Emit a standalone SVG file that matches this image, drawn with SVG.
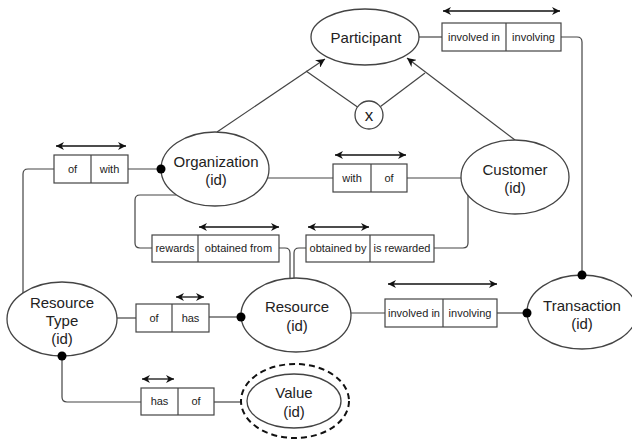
<svg xmlns="http://www.w3.org/2000/svg" width="632" height="443" viewBox="0 0 632 443">
<style>
.bg{fill:#fff}
.ent{fill:#fff;stroke:#444;stroke-width:1.3}
.weak{fill:#fff;stroke:#111;stroke-width:2;stroke-dasharray:6,4}
.box{fill:#fff;stroke:#444;stroke-width:1.2}
.ln{fill:none;stroke:#444;stroke-width:1.2}
.dbl{fill:none;stroke:#111;stroke-width:1.3;marker-start:url(#ah);marker-end:url(#ah)}
.dot{fill:#000}
.t{font-family:"Liberation Sans",Arial,Helvetica,sans-serif;fill:#222;text-anchor:middle}
.big{font-size:15px}
.sm{font-size:11px}
</style>
<defs>
<marker id="ah" viewBox="0 0 10 10" refX="10" refY="5" markerWidth="8" markerHeight="8" markerUnits="userSpaceOnUse" orient="auto-start-reverse">
<path d="M0,0 L10,5 L0,10 L3,5 z" fill="#111"/>
</marker>
<marker id="ap" viewBox="0 0 10 10" refX="10" refY="5" markerWidth="9" markerHeight="9" markerUnits="userSpaceOnUse" orient="auto">
<path d="M0,0 L10,5 L0,10 L3,5 z" fill="#111"/>
</marker>
</defs>
<rect class="bg" x="0" y="0" width="632" height="443"/>

<g id="connectors">
<path class="ln" d="M419,37 L442,37"/>
<path class="ln" d="M561,37 L577,37 Q582,37 582,42 L582,275"/>
<path class="ln" d="M217,132 L325,59" marker-end="url(#ap)"/>
<path class="ln" d="M515,140 L407,58" marker-end="url(#ap)"/>
<path class="ln" d="M306,71 L357.5,107"/>
<path class="ln" d="M425,73 L380.5,106.5"/>
<path class="ln" d="M128,169 L161,169"/>
<path class="ln" d="M54,169 L28,169 Q23,169 23,174 L23,293"/>
<path class="ln" d="M267,178 L333,178"/>
<path class="ln" d="M407,178 L461,178"/>
<path class="ln" d="M176,195 L140,195 Q135,195 135,200 L135,243 Q135,248 140,248 L152,248"/>
<path class="ln" d="M279,248 L285,248 Q290,248 290,253 L290,279"/>
<path class="ln" d="M306,248 L299,248 Q294,248 294,253 L294,279"/>
<path class="ln" d="M434,248 L463,248 Q468,248 468,243 L468,195"/>
<path class="ln" d="M117,318 L136,318"/>
<path class="ln" d="M209,317 L241,317"/>
<path class="ln" d="M351,313 L385,313"/>
<path class="ln" d="M497,313 L527,313"/>
<path class="ln" d="M62,356 L62,397 Q62,402 67,402 L141,402"/>
<path class="ln" d="M214,402 L241,402"/>
</g>

<g id="participant">
<ellipse class="ent" cx="365" cy="37" rx="54" ry="28"/>
<text class="t big" x="366" y="43">Participant</text>
</g>
<g id="exclusion">
<circle class="ent" cx="369" cy="115" r="14"/>
<text class="t" x="369" y="121" font-size="17">x</text>
</g>
<g id="organization">
<ellipse class="ent" cx="215" cy="169" rx="54" ry="37"/>
<text class="t big" x="216" y="167">Organization</text>
<text class="t big" x="216" y="185">(id)</text>
</g>
<g id="customer">
<ellipse class="ent" cx="515" cy="177" rx="54" ry="37"/>
<text class="t big" x="515" y="175">Customer</text>
<text class="t big" x="515" y="193">(id)</text>
</g>
<g id="resource-type">
<ellipse class="ent" cx="62" cy="319" rx="55" ry="37"/>
<text class="t big" x="62" y="308">Resource</text>
<text class="t big" x="62" y="326">Type</text>
<text class="t big" x="62" y="344">(id)</text>
</g>
<g id="resource">
<ellipse class="ent" cx="296" cy="315" rx="55" ry="37"/>
<text class="t big" x="297" y="312">Resource</text>
<text class="t big" x="297" y="331">(id)</text>
</g>
<g id="transaction">
<ellipse class="ent" cx="582" cy="312" rx="55" ry="37"/>
<text class="t big" x="582" y="311">Transaction</text>
<text class="t big" x="582" y="329">(id)</text>
</g>
<g id="value">
<ellipse class="weak" cx="295" cy="401" rx="54" ry="37"/>
<ellipse class="ent" cx="294" cy="401" rx="47" ry="27"/>
<text class="t big" x="294" y="398">Value</text>
<text class="t big" x="294" y="417">(id)</text>
</g>

<g id="rel-participant-transaction">
<rect class="box" x="442" y="23" width="119" height="28"/>
<path class="ln" d="M506,23 V51"/>
<text class="t sm" x="474" y="41">involved in</text>
<text class="t sm" x="533.5" y="41">involving</text>
<path class="dbl" d="M443,11 H560"/>
</g>
<g id="rel-type-organization">
<rect class="box" x="54" y="155" width="74" height="28"/>
<path class="ln" d="M91,155 V183"/>
<text class="t sm" x="72.5" y="173">of</text>
<text class="t sm" x="109.5" y="173">with</text>
<path class="dbl" d="M56,146 H126"/>
</g>
<g id="rel-organization-customer">
<rect class="box" x="333" y="164" width="74" height="28"/>
<path class="ln" d="M371,164 V192"/>
<text class="t sm" x="352" y="182">with</text>
<text class="t sm" x="389" y="182">of</text>
<path class="dbl" d="M335,155 H406"/>
</g>
<g id="rel-rewards">
<rect class="box" x="152" y="235" width="127" height="27"/>
<path class="ln" d="M198,235 V262"/>
<text class="t sm" x="175" y="252">rewards</text>
<text class="t sm" x="238.5" y="252">obtained from</text>
<path class="dbl" d="M199,227 H279"/>
</g>
<g id="rel-obtained">
<rect class="box" x="306" y="235" width="128" height="27"/>
<path class="ln" d="M370,235 V262"/>
<text class="t sm" x="338" y="252">obtained by</text>
<text class="t sm" x="402" y="252">is rewarded</text>
<path class="dbl" d="M308,227 H369"/>
</g>
<g id="rel-type-resource">
<rect class="box" x="136" y="304" width="73" height="28"/>
<path class="ln" d="M172,304 V332"/>
<text class="t sm" x="154" y="322">of</text>
<text class="t sm" x="190.5" y="322">has</text>
<path class="dbl" d="M176,297 H204"/>
</g>
<g id="rel-resource-transaction">
<rect class="box" x="385" y="299" width="112" height="28"/>
<path class="ln" d="M443,299 V327"/>
<text class="t sm" x="414" y="317">involved in</text>
<text class="t sm" x="470" y="317">involving</text>
<path class="dbl" d="M388,284 H497"/>
</g>
<g id="rel-type-value">
<rect class="box" x="141" y="388" width="73" height="27"/>
<path class="ln" d="M178,388 V415"/>
<text class="t sm" x="159.5" y="405">has</text>
<text class="t sm" x="196" y="405">of</text>
<path class="dbl" d="M142,379 H174"/>
</g>

<g id="connector-dots">
<circle class="dot" cx="161" cy="169" r="4.5"/>
<circle class="dot" cx="241" cy="317" r="4.5"/>
<circle class="dot" cx="527" cy="313" r="4.5"/>
<circle class="dot" cx="582" cy="275" r="4.5"/>
<circle class="dot" cx="62" cy="356" r="4.5"/>
</g>
</svg>
